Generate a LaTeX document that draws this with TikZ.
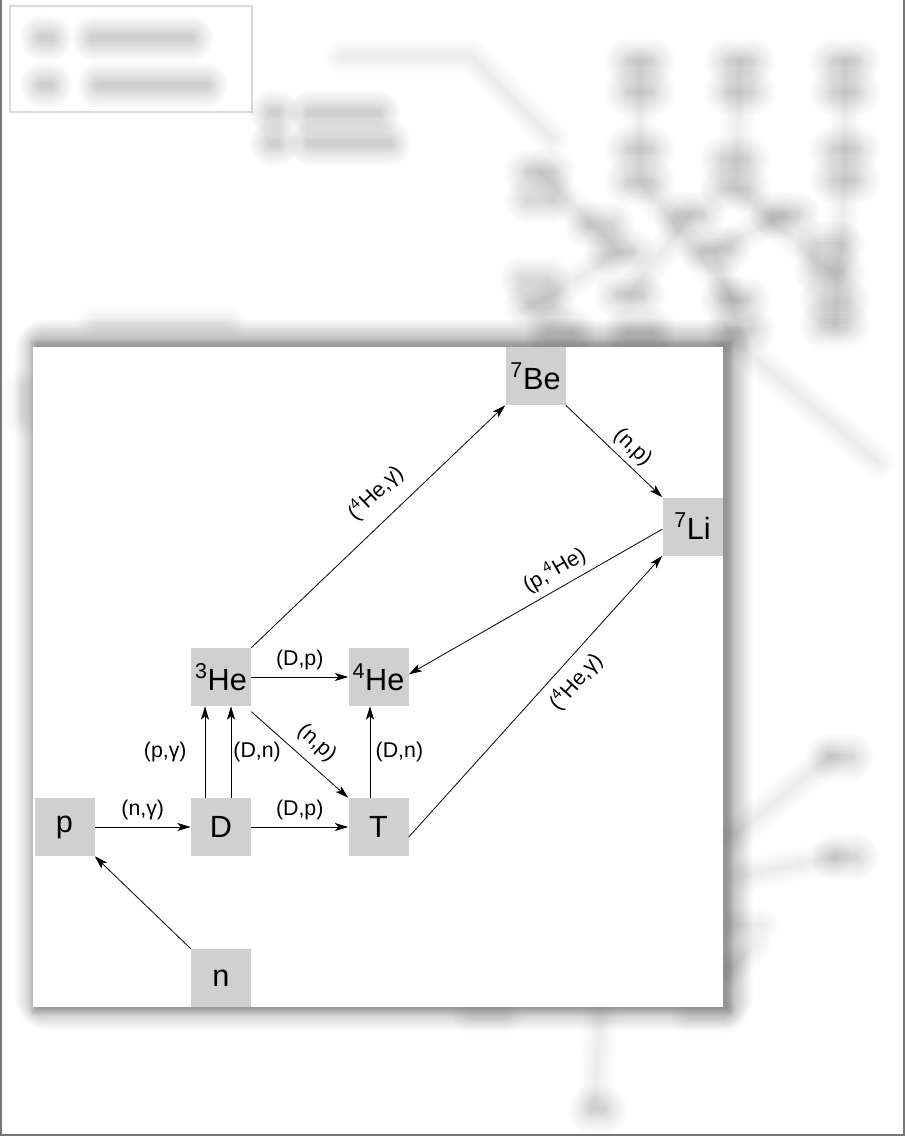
\documentclass[tikz,border=0pt]{standalone}
\usepackage{fontspec}
\setmainfont{Liberation Sans}
\usetikzlibrary{arrows.meta}
\definecolor{nodegray}{RGB}{208,208,208}
\definecolor{framegray}{RGB}{118,118,118}
\definecolor{legendgray}{RGB}{218,218,218}
\newcommand\haze[1]{\foreach \w in {36,33,30,27,24,21,18.5,16,13.5,11,8.5,6,4}{\draw[black,opacity=0.012,line width=\w pt,line cap=round,line join=round] #1;}}
\newcommand\darkhaze[1]{\foreach \w in {34,31,28,25,22,19,16.5,14,11.5,9,6.5,4}{\draw[black,opacity=0.016,line width=\w pt,line cap=round,line join=round] #1;}}
\newcommand\thinhaze[1]{\foreach \w in {26,23,20,17,14,11.5,9,6.5,4,2}{\draw[black,opacity=0.009,line width=\w pt,line cap=round,line join=round] #1;}}
\begin{document}
\begin{tikzpicture}[x=0.75pt,y=-0.75pt,
  nuc/.style={fill=nodegray, minimum width=45pt, minimum height=43.5pt, inner sep=0pt, font=\fontsize{23}{25}\selectfont},
  rx/.style={draw=black, line width=0.6pt, -{Stealth[length=10pt,width=6pt,inset=2.5pt]}},
  lbl/.style={font=\fontsize{16}{18}\selectfont, inner sep=0pt, text=black},
]
\useasboundingbox (0,0) rectangle (905,1139);
\fill[white] (0,0) rectangle (905,1139);

% ---- blurred background ----
\draw[legendgray, line width=1.5pt, fill=white] (10,6) rectangle (252,112);
\darkhaze{(42,38) -- (50,38)} \darkhaze{(94,38) -- (191,38)}
\darkhaze{(42,85) -- (50,85)} \darkhaze{(99,85) -- (206,85)}
\darkhaze{(272,113) -- (277,113)} \darkhaze{(310,113) -- (378,113)}
\darkhaze{(272,143) -- (277,143)} \darkhaze{(310,143) -- (389,143)}
\thinhaze{(342,57) -- (472,57) -- (552,138)}
\foreach \x/\y in {640/62,640/92,740/62,740/92,845/62,845/92,
                   540/172,540/200,640/150,640/182,735/160,735/188,845/150,845/180,
                   690/215,785/215,600/225,
                   620/252,715/250,830/245,830/272,
                   535/280,540/305,630/295,735/300,835/300,835/325,640/330,740/330,560/330}
  {\haze{(\x-12,\y) -- (\x+12,\y)}}
\thinhaze{(640,62) -- (640,182) -- (735,300)}
\thinhaze{(740,62) -- (735,188) -- (830,272)}
\thinhaze{(845,62) -- (845,180) -- (835,325)}
\thinhaze{(540,172) -- (620,252) -- (535,305)}
\thinhaze{(690,215) -- (630,295)} \thinhaze{(785,215) -- (715,250) -- (740,330)}
\thinhaze{(745,350) -- (878,462)}
\thinhaze{(735,835) -- (830,757)} \haze{(830,757) -- (850,757)}
\thinhaze{(745,875) -- (835,857)} \haze{(835,857) -- (855,857)}
\thinhaze{(738,925) -- (762,925)} \thinhaze{(730,970) -- (755,945)}
\thinhaze{(600,1020) -- (595,1100)} \haze{(592,1110) -- (604,1110)}
\thinhaze{(470,1018) -- (505,1018)} \thinhaze{(690,1018) -- (725,1018)}
\thinhaze{(95,322) -- (228,322)}
\thinhaze{(22,385) -- (22,420)}

% ---- frame ----
\draw[framegray, line width=2.2pt] (1,0) -- (1,1135) -- (904,1135) -- (904,0);

% ---- panel shadow ----
\foreach \i in {1,...,24}
  \fill[black,opacity=0.011,rounded corners=\i pt] (39-\i,343-\i) rectangle (729+\i,1006+\i);
\foreach \i in {1,...,8}
  \fill[black,opacity=0.02] (37-\i,347-\i) rectangle (726+\i,1008+\i);
\fill[white] (33,347) rectangle (723,1007);

% ---- nodes ----
\node[nuc] (p)   at (64.5,827)   {p};
\node[nuc] (D)   at (221,827)    {D};
\node[nuc] (T)   at (378.5,827)  {T};
\node[nuc] (He3) at (221,677)    {\textsuperscript{3}He};
\node[nuc] (He4) at (378.5,677)  {\textsuperscript{4}He};
\node[nuc] (n)   at (221,978)    {n};
\node[nuc] (Be7) at (535.5,376)  {\textsuperscript{7}Be};
\node[nuc] (Li7) at (692.5,526.5){\textsuperscript{7}Li};

% ---- reactions ----
\draw[rx] (p.east) -- node[lbl,above=5pt]{(n,γ)} (D.west);
\draw[rx] (D.east) -- node[lbl,above=5pt]{(D,p)} (T.west);
\draw[rx] (He3.east) -- node[lbl,above=5pt]{(D,p)} (He4.west);
\draw[rx] ([xshift=-12pt]D.north) -- node[lbl,left=13.5pt]{(p,γ)} ([xshift=-12pt]He3.south);
\draw[rx] ([xshift=7.5pt]D.north) -- node[lbl,right=1.5pt]{(D,n)} ([xshift=7.5pt]He3.south);
\draw[rx] ([xshift=-6.4pt]T.north) -- node[lbl,right=4pt]{(D,n)} ([xshift=-6.4pt]He4.south);
\draw[rx] ([yshift=-4pt]He3.south east) -- node[lbl,sloped,above=7pt,pos=0.54]{(n,p)} (T.north west);
\draw[rx] (n.north west) -- (p.south east);
\draw[rx] (He3.north east) -- node[lbl,sloped,above=11pt,pos=0.56]{(\textsuperscript{4}He,γ)} (Be7.south west);
\draw[rx] (Be7.south east) -- node[lbl,sloped,above=4pt,pos=0.58]{(n,p)} (Li7.north west);
\draw[rx] ([yshift=-2pt]Li7.west) -- node[lbl,sloped,above=5pt,pos=0.39]{(p,\textsuperscript{4}He)} ([yshift=2pt]He4.east);
\draw[rx] ([yshift=-7.5pt]T.east) -- node[lbl,sloped,below=6pt,pos=0.6]{(\textsuperscript{4}He,γ)} (Li7.south west);
\end{tikzpicture}
\end{document}
